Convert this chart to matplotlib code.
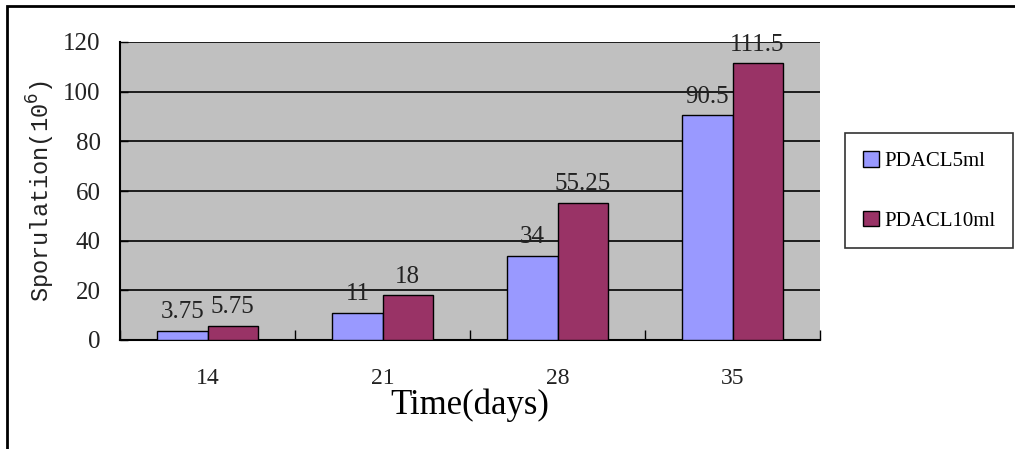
import matplotlib
matplotlib.use("Agg")
import matplotlib.pyplot as plt
import numpy as np
from matplotlib.patches import Rectangle

categories = ["14", "21", "28", "35"]
series_names = ["PDACL5ml", "PDACL10ml"]
pdacl_5ml = [3.75, 11, 34, 90.5]
pdacl_10ml = [5.75, 18, 55.25, 111.5]
labels_5 = ["3.75", "11", "34", "90.5"]
labels_10 = ["5.75", "18", "55.25", "111.5"]
yticks = [0, 20, 40, 60, 80, 100, 120]

serif = ["Liberation Serif", "DejaVu Serif"]
plt.rcParams["font.family"] = serif

fig = plt.figure(figsize=(10.15, 4.49), dpi=100)
ax = fig.add_axes([120/1015, 109/449, 700/1015, 298/449])
ax.set_facecolor("#C0C0C0")

x = np.arange(len(categories))
w = 0.286
b1 = ax.bar(x - w/2, pdacl_5ml, w, color="#9999FF", edgecolor="black", linewidth=1, label=series_names[0], zorder=3)
b2 = ax.bar(x + w/2, pdacl_10ml, w, color="#993366", edgecolor="black", linewidth=1, label=series_names[1], zorder=3)

for rect, lab in zip(b1, labels_5):
    ax.text(rect.get_x() + rect.get_width()/2, rect.get_height() + 3, lab,
            ha="center", va="bottom", fontsize=18, color="#222222", zorder=4)
for rect, lab in zip(b2, labels_10):
    ax.text(rect.get_x() + rect.get_width()/2, rect.get_height() + 3, lab,
            ha="center", va="bottom", fontsize=18, color="#222222", zorder=4)

ax.set_xlim(-0.5, len(categories) - 0.5)
ax.set_ylim(0, 120)
ax.set_yticks(yticks)
ax.set_yticklabels([str(v) for v in yticks], fontsize=18, color="#222222")
ax.set_xticks(x)
ax.set_xticklabels(categories, fontsize=17, color="#222222")
ax.set_xticks(np.arange(len(categories) + 1) - 0.5, minor=True)
ax.tick_params(axis="x", which="major", length=0, pad=20)
ax.tick_params(axis="x", which="minor", direction="in", length=7, width=1)
ax.tick_params(axis="y", which="major", direction="in", length=6, width=1, pad=14)
ax.yaxis.grid(True, color="black", linewidth=1.2, zorder=1)
ax.set_axisbelow(True)

for side in ["top", "right"]:
    ax.spines[side].set_visible(False)
ax.spines["left"].set_linewidth(1.5)
ax.spines["bottom"].set_linewidth(1.5)

ax.set_ylabel("Sporulation(10$^6$)", fontsize=17, color="#222222", labelpad=4,
              family=["Liberation Mono", "DejaVu Sans Mono"])
ax.set_xlabel("Time(days)", fontsize=25, labelpad=0)

leg = fig.legend(handles=[b1, b2], labels=series_names, loc="upper left",
                 bbox_to_anchor=(845/1015, 1 - 133/449), fontsize=15,
                 frameon=True, fancybox=False, edgecolor="black",
                 handlelength=0.8, handleheight=0.8, handletextpad=0.25,
                 labelspacing=1.9, borderpad=0.85, borderaxespad=0)
leg.get_frame().set_linewidth(1.2)

fig.patches.append(Rectangle((7/1015, -0.1), 1.2, 1 - 6/449 + 0.1,
                             transform=fig.transFigure, fill=False,
                             edgecolor="black", linewidth=2))

fig.savefig("out.png", dpi=100)
